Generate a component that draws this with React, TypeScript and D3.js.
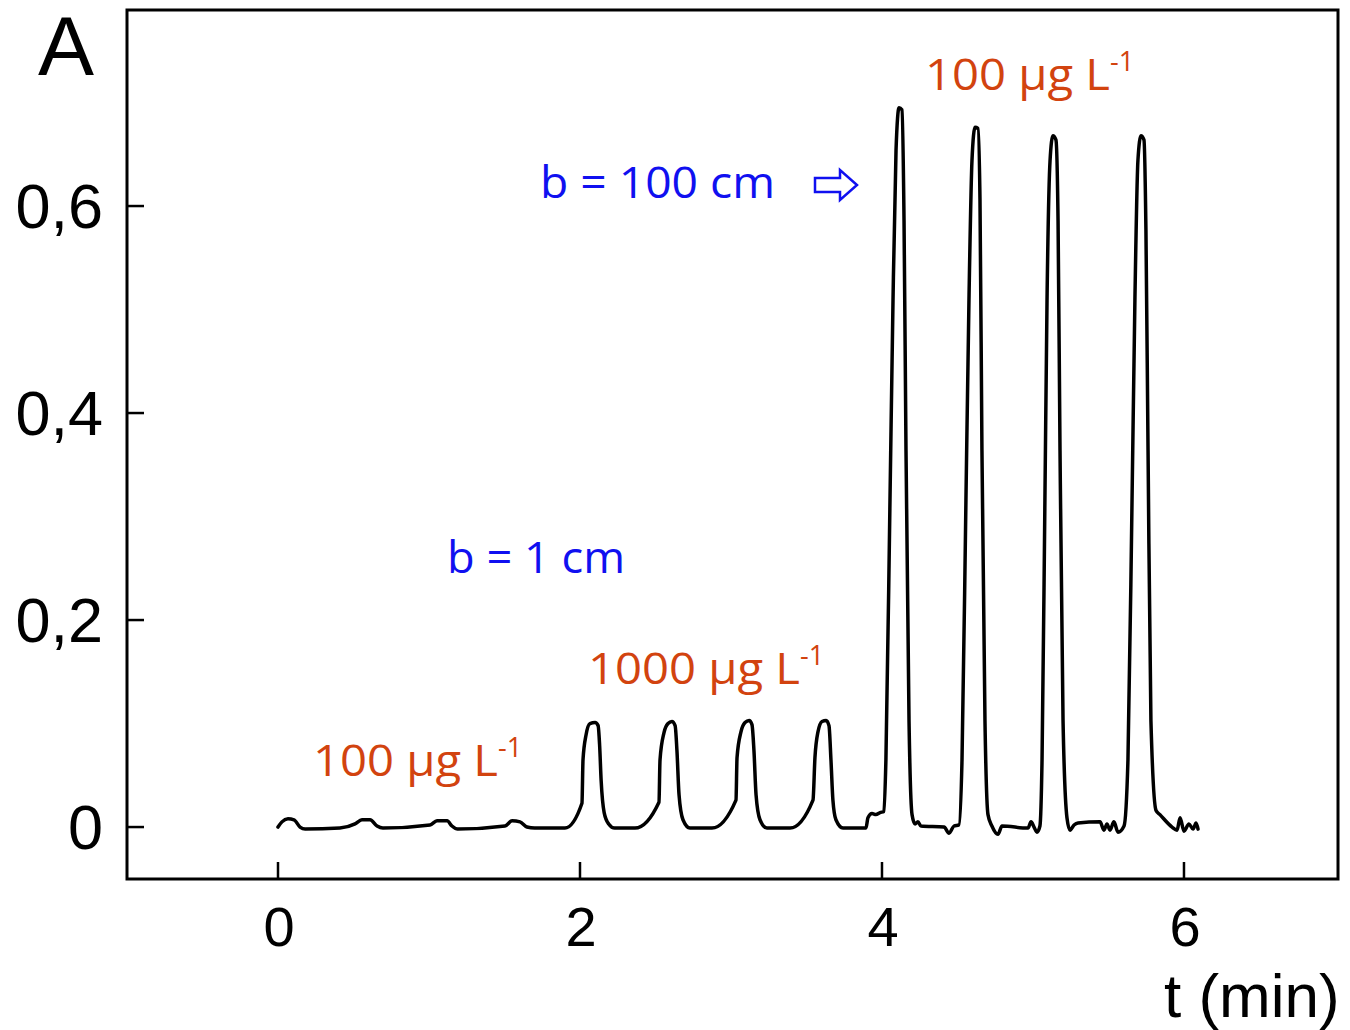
import React from "react";
import * as d3 from "d3";

const xTicks = [0, 2, 4, 6];
const yTicks = [0, 0.2, 0.4, 0.6];
const yTickLabels = ["0", "0,2", "0,4", "0,6"];

// time (min)
const traceT = [
  0, 0.026, 0.066, 0.106, 0.146, 0.18, 0.41, 0.51, 0.556, 0.61, 0.656, 0.695,
  1.007, 1.053, 1.12, 1.152, 1.19, 1.503, 1.55, 1.603, 1.649, 1.7, 1.9,
  2.013, 2.02, 2.04, 2.066, 2.1, 2.12, 2.13, 2.14, 2.16, 2.19, 2.23, 2.364,
  2.523, 2.53, 2.556, 2.583, 2.609, 2.63, 2.642, 2.656, 2.682, 2.728, 2.874,
  3.033, 3.04, 3.066, 3.093, 3.12, 3.139, 3.152, 3.166, 3.192, 3.238, 3.391,
  3.543, 3.556, 3.576, 3.603, 3.63, 3.649, 3.662, 3.675, 3.695, 3.742, 3.894,
  3.907, 3.934, 3.96, 3.987, 4.013,
  4.026, 4.053, 4.073, 4.093, 4.113, 4.132, 4.146, 4.159, 4.179, 4.199, 4.219,
  4.238, 4.258, 4.411, 4.444, 4.477, 4.51,
  4.53, 4.556, 4.576, 4.596, 4.616, 4.636, 4.649, 4.662, 4.682, 4.702, 4.728,
  4.768, 4.795, 4.967, 4.987, 5.007, 5.026, 5.046,
  5.06, 5.079, 5.093, 5.113, 5.132, 5.152, 5.166, 5.179, 5.199, 5.225, 5.245,
  5.272, 5.298, 5.444, 5.47, 5.49, 5.51, 5.536, 5.563, 5.603,
  5.629, 5.656, 5.675, 5.695, 5.715, 5.735, 5.748, 5.762, 5.781, 5.815, 5.841,
  5.921, 5.954, 5.974, 6.0, 6.033, 6.06, 6.08, 6.093,
];
// absorbance
const traceV = [
  0, 0.005, 0.008, 0.007, 0.0, -0.002, -0.001, 0.003, 0.007, 0.007, 0.001, -0.001,
  0.002, 0.006, 0.006, 0.001, -0.002, 0.001, 0.006, 0.005, 0, -0.001, -0.001,
  0.023, 0.065, 0.089, 0.1, 0.101, 0.098, 0.079, 0.045, 0.014, 0.003, -0.001, -0.001,
  0.024, 0.065, 0.091, 0.1, 0.102, 0.098, 0.074, 0.031, 0.007, -0.001, -0.001,
  0.026, 0.067, 0.092, 0.101, 0.103, 0.099, 0.074, 0.031, 0.007, -0.001, -0.001,
  0.026, 0.067, 0.092, 0.102, 0.103, 0.098, 0.065, 0.026, 0.007, -0.001, -0.001,
  0.009, 0.013, 0.012, 0.014, 0.015,
  0.065, 0.316, 0.509, 0.654, 0.695, 0.693, 0.586, 0.364, 0.103, 0.012, 0.003,
  0.005, 0.001, 0, -0.006, 0.001, 0.002,
  0.065, 0.316, 0.509, 0.644, 0.676, 0.675, 0.606, 0.364, 0.103, 0.012, 0.001,
  -0.007, 0.001, -0.001, 0.005, 0, -0.005, 0.001,
  0.065, 0.316, 0.509, 0.644, 0.668, 0.664, 0.586, 0.364, 0.103, 0.009, -0.003,
  0.002, 0.004, 0.005, -0.003, 0.003, -0.003, 0.005, -0.005, 0.001,
  0.065, 0.316, 0.509, 0.644, 0.668, 0.664, 0.577, 0.364, 0.103, 0.016, 0.012,
  0, -0.003, 0.009, -0.004, 0.003, -0.002, 0.004, -0.002,
];

const W = 1350;
const H = 1030;
const L = 127, R = 1338, T = 10, B = 879;

const xScale = d3.scaleLinear().domain([-1, 7.02]).range([L, R]);
const yScale = d3.scaleLinear().domain([-0.0502, 0.7894]).range([B, T]);

const orange = "#d2430f";
const blue = "#1010f0";
const labelFont = "'Comic Sans MS', 'Open Sans', sans-serif";
const axisFont = "'Liberation Sans', Arial, sans-serif";

export default function App() {
  const data = traceT.map((t, i) => [t, traceV[i]] as [number, number]);
  const line = d3
    .line<[number, number]>()
    .x((d) => xScale(d[0]))
    .y((d) => yScale(d[1]))
    .curve(d3.curveMonotoneX);

  const conc = (x: number, y: number, main: string, len: number) => (
    <text x={x} y={y} fill={orange} fontFamily={labelFont} fontSize={44} fontWeight={500}>
      <tspan textLength={len} lengthAdjust="spacingAndGlyphs">{main}</tspan>
      <tspan fontSize={27} dy={-19}>-1</tspan>
    </text>
  );

  return (
    <svg
      width={W}
      height={H}
      style={{ position: "absolute", left: 0, top: 0, background: "#fff" }}
    >
      <rect x={0} y={0} width={W} height={H} fill="#fff" />
      <rect x={L} y={T} width={R - L} height={B - T} fill="none" stroke="#000" strokeWidth={3} />
      {xTicks.map((t) => (
        <g key={"x" + t}>
          <line x1={xScale(t)} x2={xScale(t)} y1={B} y2={B - 17} stroke="#000" strokeWidth={2.5} />
          <text x={xScale(t) + 1} y={946} textAnchor="middle" fontFamily={axisFont} fontSize={56}>
            {t}
          </text>
        </g>
      ))}
      {yTicks.map((v, i) => (
        <g key={"y" + v}>
          <line x1={L} x2={L + 17} y1={yScale(v)} y2={yScale(v)} stroke="#000" strokeWidth={2.5} />
          <text x={103} y={yScale(v) + 22} textAnchor="end" fontFamily={axisFont} fontSize={63}>
            {yTickLabels[i]}
          </text>
        </g>
      ))}
      <text x={38} y={75} fontFamily={axisFont} fontSize={84}>A</text>
      <text x={1164} y={1017} fontFamily={axisFont} fontSize={62}>t (min)</text>

      <path d={line(data) || ""} fill="none" stroke="#000" strokeWidth={3.5} strokeLinejoin="round" strokeLinecap="round" />

      {conc(925, 90, "100 µg L", 185)}
      {conc(588, 684, "1000 µg L", 212)}
      {conc(313, 776, "100 µg L", 185)}

      <text x={540} y={198} fill={blue} fontFamily={labelFont} fontSize={44} fontWeight={500} textLength={235} lengthAdjust="spacingAndGlyphs">
        b = 100 cm
      </text>
      <text x={447} y={573} fill={blue} fontFamily={labelFont} fontSize={44} fontWeight={500} textLength={178} lengthAdjust="spacingAndGlyphs">
        b = 1 cm
      </text>
      <polygon
        points="815,178 840,178 840,170 857,185 840,200 840,192 815,192"
        fill="#fff"
        stroke={blue}
        strokeWidth={2.5}
        strokeLinejoin="miter"
      />
    </svg>
  );
}
